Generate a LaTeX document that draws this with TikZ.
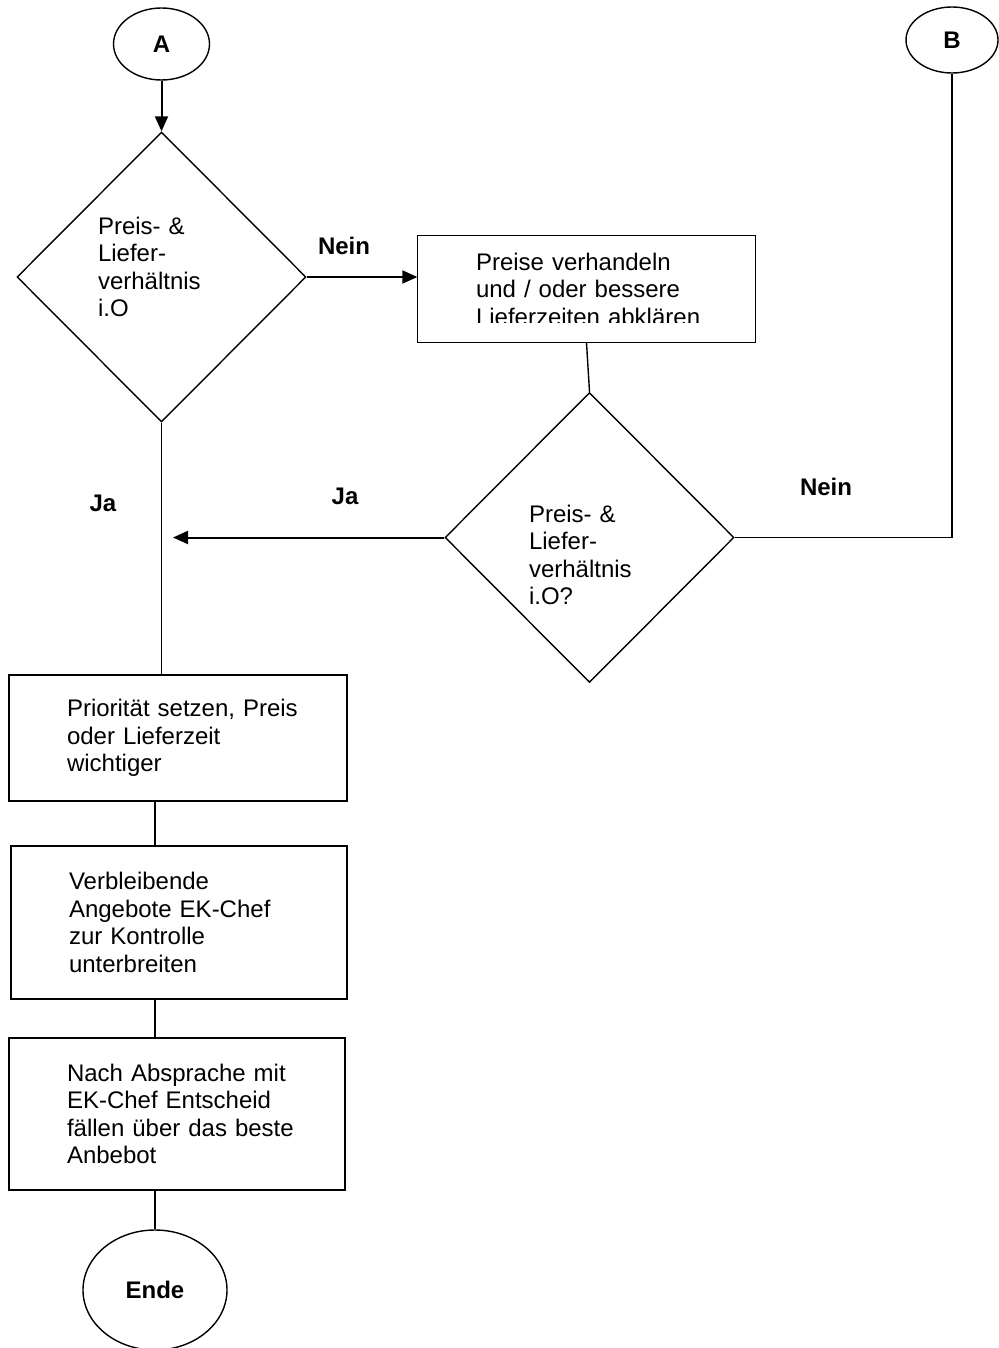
\documentclass[tikz,border=0pt]{standalone}
\usepackage{fontspec}
\setmainfont{Liberation Sans}
\usetikzlibrary{arrows.meta, shapes.geometric}

\begin{document}
\begin{tikzpicture}[x=1pt,y=-1pt,line width=1.4pt,
  >={Triangle[length=15pt,width=13pt]},
  font=\fontsize{24}{27.5}\selectfont,
  box/.style={rectangle,draw,inner xsep=58pt,inner ysep=0pt,align=left},
  term/.style={ellipse,draw,inner sep=0pt,font=\fontsize{24}{27.5}\selectfont\bfseries},
  decision/.style={diamond,draw,inner sep=0pt,minimum width=289pt,minimum height=290pt},
  dtext/.style={text width=122pt,align=left},
  answer/.style={font=\fontsize{24}{27.5}\selectfont\bfseries},
  flow/.style={->,line width=2pt}]

  \useasboundingbox (0,0) rectangle (998,1348);

  \node[term, minimum width=96pt, minimum height=72pt] (A) at (161.5,44) {A};
  \node[term, minimum width=92pt, minimum height=66pt] (B) at (952,40) {B};
  \node[decision] (d1) at (161.5,277) {};
  \node[dtext] (d1t) at (159,267) {Preis- \&\\Liefer-\\verhältnis\\i.O};

  % Box mit abgeschnittener letzter Zeile
  \begin{scope}
    \clip (418,230) rectangle (755,322);
    \node[box, draw=none, text width=221pt, minimum height=106pt] (haggle) at (586.5,289)
      {Preise verhandeln\\und / oder bessere\\\mbox{Lieferzeiten abklären}};
  \end{scope}
  \draw (haggle.north west) rectangle (haggle.south east);

  \node[decision] (d2) at (589.5,537.5) {};
  \node[dtext] (d2t) at (590,555) {Preis- \&\\Liefer-\\verhältnis\\i.O?};
  \coordinate (jaend) at (173,537.5);

  \node[box, text width=222pt, minimum height=126pt] (prio) at (178,738)
    {\mbox{Priorität setzen, Preis}\\oder Lieferzeit\\wichtiger};
  \node[box, text width=220pt, minimum height=153pt] (offers) at (179,922.5)
    {Verbleibende\\Angebote EK-Chef\\zur Kontrolle\\unterbreiten};
  \node[box, text width=220pt, minimum height=152pt] (decide) at (177,1114)
    {Nach Absprache mit\\EK-Chef Entscheid\\\mbox{fällen über das beste}\\Anbebot};
  \node[term, minimum width=144pt, minimum height=120pt] (ende) at (155,1290) {Ende};

  \node[answer] (nein1) at (344,246) {Nein};
  \node[answer] (ja1) at (345,496) {Ja};
  \node[answer] (nein2) at (826,487) {Nein};
  \node[answer] (ja2) at (103,503) {Ja};

  \draw[flow] (A.south) -- (d1.north);
  \draw[flow] (d1.east) -- (haggle.west |- d1.east);
  \draw (haggle.south) -- (d2.north);
  \draw[flow] (d2.west) -- (jaend);
  \draw (d2.east) -| (B.south);
  \draw (d1.south) -- (d1.south |- prio.north);
  \draw (prio.south -| ende.north) -- (offers.north -| ende.north);
  \draw (offers.south -| ende.north) -- (decide.north -| ende.north);
  \draw (decide.south -| ende.north) -- (ende.north);
\end{tikzpicture}
\end{document}
